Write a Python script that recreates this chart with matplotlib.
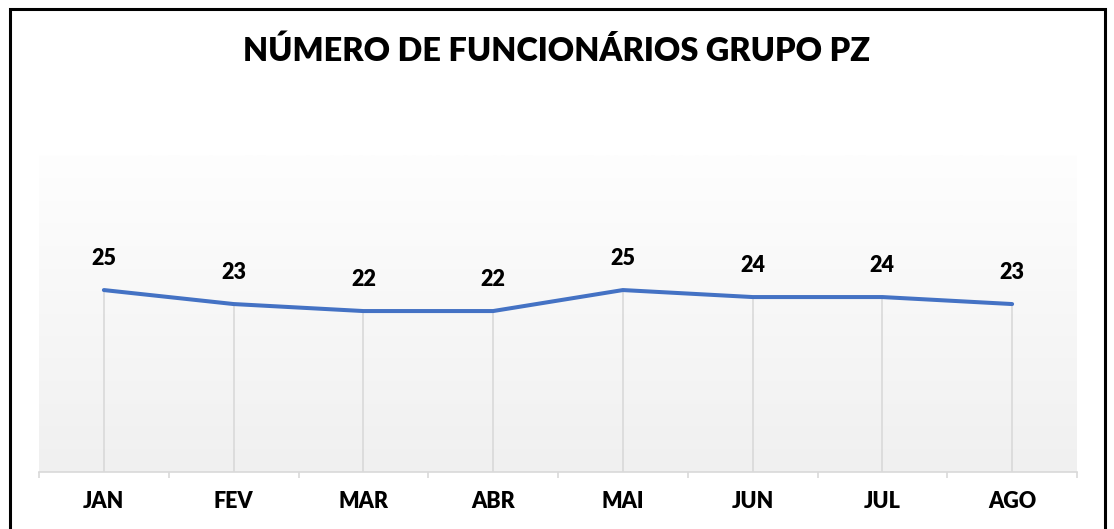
import matplotlib
matplotlib.use("Agg")
import matplotlib.pyplot as plt
import numpy as np
from matplotlib.patches import Rectangle
from matplotlib.colors import LinearSegmentedColormap

months = ["JAN", "FEV", "MAR", "ABR", "MAI", "JUN", "JUL", "AGO"]
funcionarios = [25, 23, 22, 22, 25, 24, 24, 23]
title = "NÚMERO DE FUNCIONÁRIOS GRUPO PZ"

plt.rcParams['font.family'] = ['Lato', 'DejaVu Sans']

W, H = 1114, 529
fig = plt.figure(figsize=(W / 100, H / 100), dpi=100)
fig.patch.set_facecolor("white")

left, right, top, bottom = 39, 1077, 155, 472
ax = fig.add_axes([left / W, 1 - bottom / H, (right - left) / W, (bottom - top) / H])

x = np.arange(len(months))
ax.set_xlim(-0.5, len(months) - 0.5)
ax.set_ylim(-1, 44.3)

# gradient background
grad = np.linspace(0, 1, 256).reshape(-1, 1)
cmap = LinearSegmentedColormap.from_list("g", ["#f0f0f0", "#fefefe"])
ax.imshow(grad, aspect="auto", cmap=cmap, origin="lower",
          extent=[-0.5, len(months) - 0.5, -1, 44.3], zorder=0)

# drop lines
ax.vlines(x, -1, funcionarios, colors="#d9d9d9", linewidth=1.2, zorder=1)

ax.plot(x, funcionarios, color="#4472C4", linewidth=2.9, solid_capstyle="round",
        solid_joinstyle="round", zorder=3)

for xi, v in zip(x, funcionarios):
    ax.annotate(str(v), (xi, v), xytext=(0, 23), textcoords="offset points",
                ha="center", va="center", fontsize=15.5, fontweight="heavy", color="black")

for s in ["top", "right", "left"]:
    ax.spines[s].set_visible(False)
ax.spines["bottom"].set_color("#d9d9d9")
ax.spines["bottom"].set_linewidth(1.2)
ax.set_yticks([])
ax.set_xticks(np.arange(-0.5, len(months), 1.0))
ax.set_xticklabels([])
ax.tick_params(axis="x", which="major", length=4.5, color="#d9d9d9", width=1.2)
ax.set_xticks(x, minor=True)
ax.set_xticklabels(months, minor=True, fontsize=15.5, fontweight="heavy")
ax.tick_params(axis="x", which="minor", length=0, pad=14)

fig.text(0.5, 1 - 51 / H, title, ha="center", va="center", fontsize=23.4,
         fontweight="heavy", color="black")

# border
fig.add_artist(Rectangle((10 / W, -0.05), (1105 - 10) / W, 1.05 - 9 / H,
                         transform=fig.transFigure, fill=False,
                         edgecolor="black", linewidth=2.2))

fig.savefig("out.png", dpi=100)
